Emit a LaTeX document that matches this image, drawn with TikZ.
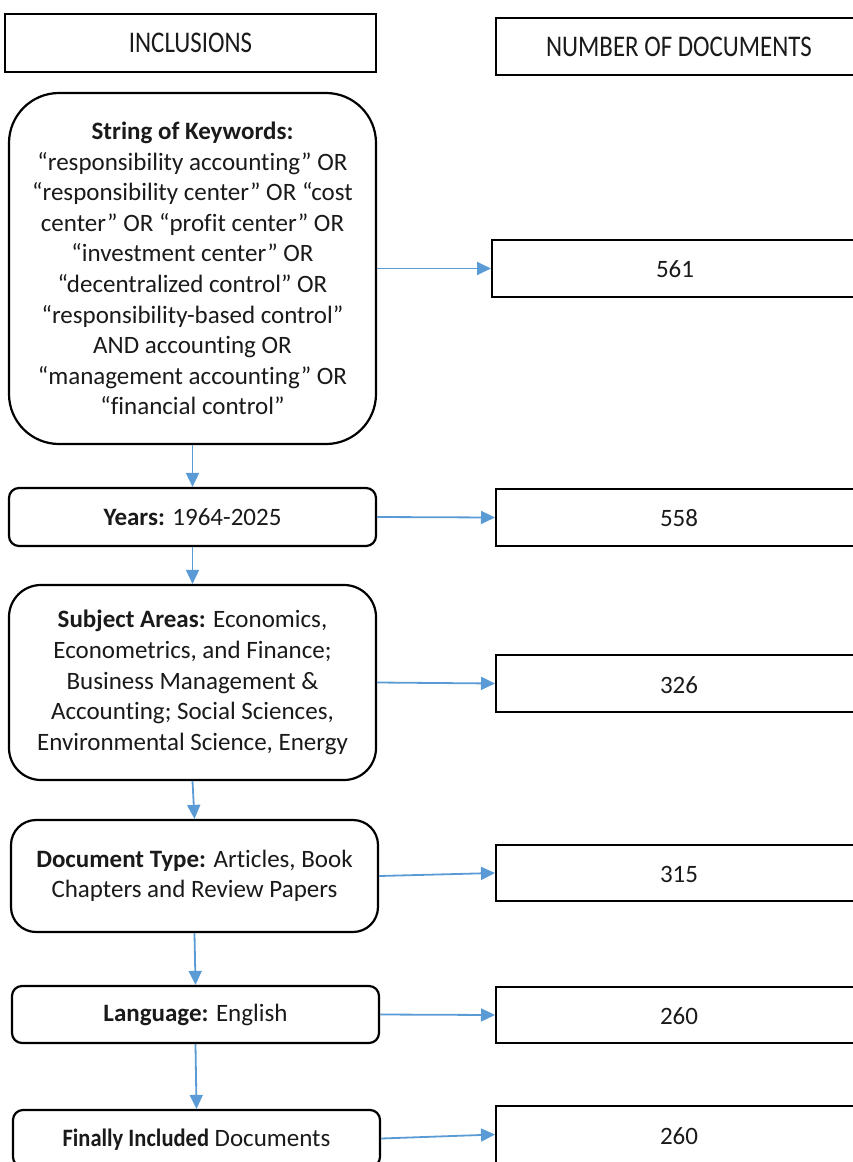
\documentclass[tikz,border=0pt]{standalone}
\usepackage{fontspec}
\setmainfont{Carlito}[Ligatures=NoCommon]
\usetikzlibrary{arrows.meta}
\definecolor{arrowblue}{HTML}{5B9BD5}
\definecolor{txt}{HTML}{1A1A1A}
\tikzset{
  box/.style={draw=black, line width=2.2pt, fill=white, align=center, inner sep=0pt, text=txt},
  rbox/.style={box, rounded corners=#1},
  body/.style={font=\fontsize{25}{30.6}\selectfont},
  head/.style={font=\fontsize{30}{32}\selectfont},
  conn/.style={draw=arrowblue, line width=1.8pt, -{Triangle[length=14pt, width=13pt]}},
}
\begin{document}
\begin{tikzpicture}[x=1pt, y=-1pt]
\useasboundingbox (0,0) rectangle (853,1162);
\clip (0,0) rectangle (853,1162);
% headers
\node[box, head, minimum width=371pt, minimum height=58pt] (hinc) at (190.5,43) {\addfontfeatures{FakeStretch=0.83}INCLUSIONS};
\node[box, head, minimum width=400pt, minimum height=57pt, anchor=west] (hnum) at (495,46.5) {};
\node[head, text=txt] (hnumt) at (679,47) {\addfontfeatures{FakeStretch=0.83}NUMBER OF DOCUMENTS};
% left column
\node[rbox=50pt, body, minimum width=367pt, minimum height=351pt] (kw) at (192.5,268.5)
 {\textbf{String of Keywords:}\\
 “responsibility accounting” OR\\
 “responsibility center” OR “cost\\
 center” OR “profit center” OR\\
 “investment center” OR\\
 “decentralized control” OR\\
 “responsibility-based control”\\
 AND accounting OR\\
 “management accounting” OR\\
 “financial control”};
\node[rbox=10pt, body, minimum width=367pt, minimum height=58pt] (yr) at (192.5,517) {\textbf{Years:} 1964-2025};
\node[rbox=32pt, body, minimum width=367pt, minimum height=195pt] (sub) at (192.5,682.5)
 {\textbf{Subject Areas:} Economics,\\
 Econometrics, and Finance;\\
 Business Management \&\\
 Accounting; Social Sciences,\\
 Environmental Science, Energy};
\node[rbox=25pt, body, minimum width=367pt, minimum height=112pt] (doc) at (194.5,876)
 {\textbf{Document Type:} Articles, Book\\
 Chapters and Review Papers};
\node[rbox=10pt, body, minimum width=367pt, minimum height=57pt] (lang) at (195.5,1014.5) {\textbf{Language:} English};
\node[rbox=10pt, minimum width=367pt, minimum height=57pt] (fin) at (196.5,1138.5) {};
\node[body, text=txt] (fint) at (196.5,1140) {\textbf{\addfontfeatures{FakeStretch=0.9}Finally Included} Documents};
% right column
\node[box, minimum width=400pt, minimum height=57pt, anchor=west] (n561) at (491,268.5) {};
\node[body, text=txt] (t561) at (675,269) {561};
\node[box, minimum width=400pt, minimum height=57pt, anchor=west] (n558) at (495,517.5) {};
\node[body, text=txt] (t558) at (679,518) {558};
\node[box, minimum width=400pt, minimum height=57pt, anchor=west] (n326) at (495,683.5) {};
\node[body, text=txt] (t326) at (679,685) {326};
\node[box, minimum width=400pt, minimum height=56pt, anchor=west] (n315) at (495,873) {};
\node[body, text=txt] (t315) at (679,874) {315};
\node[box, minimum width=400pt, minimum height=56pt, anchor=west] (n260a) at (495,1015) {};
\node[body, text=txt] (t260a) at (679,1016) {260};
\node[box, minimum width=400pt, minimum height=57pt, anchor=west] (n260b) at (495,1134.5) {};
\node[body, text=txt] (t260b) at (679,1136) {260};
% vertical connectors
\draw[conn] (kw.south) -- (yr.north);
\draw[conn] (yr.south) -- (sub.north);
\draw[conn] (sub.south) -- (doc.north);
\draw[conn] (doc.south) -- (lang.north);
\draw[conn] (lang.south) -- (fin.north);
% horizontal connectors
\draw[conn] (kw.east) -- (n561.west);
\draw[conn] (yr.east) -- (n558.west);
\draw[conn] (sub.east) -- (n326.west);
\draw[conn] (doc.east) -- (n315.west);
\draw[conn] (lang.east) -- (n260a.west);
\draw[conn] (fin.east) -- (n260b.west);
\end{tikzpicture}
\end{document}
